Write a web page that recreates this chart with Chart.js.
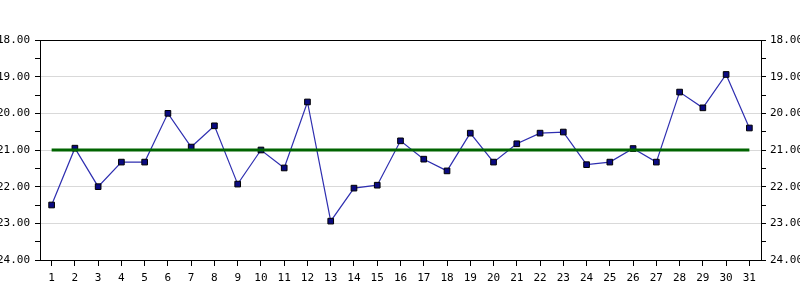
<!DOCTYPE html>
<html>
<head>
<meta charset="utf-8">
<script src="https://cdn.jsdelivr.net/npm/chart.js@4/dist/chart.umd.min.js"></script>
<style>
  body { margin: 0; background: #fff; }
</style>
</head>
<body>
<canvas id="myChart" width="800" height="300"></canvas>
<script>
const days = ['1','2','3','4','5','6','7','8','9','10','11','12','13','14','15','16','17','18','19','20','21','22','23','24','25','26','27','28','29','30','31'];
const values = [22.50, 20.95, 22.00, 21.33, 21.33, 20.00, 20.92, 20.34, 21.93, 21.00, 21.49, 19.69, 22.94, 22.04, 21.96, 20.75, 21.25, 21.57, 20.54, 21.33, 20.83, 20.54, 20.51, 21.40, 21.33, 20.96, 21.33, 19.42, 19.85, 18.94, 20.40];
const target = days.map(() => 21.00);
const yMin = 18;
const yMax = 24;

const gridColor = (ctx) => {
    const v = ctx.tick ? ctx.tick.value : null;
    if (v === yMin || v === yMax) return '#000';
    return Number.isInteger(v) ? '#d9d9d9' : 'rgba(0,0,0,0)';
};

const yAxis = (position) => ({
    position: position,
    reverse: true,
    min: yMin,
    max: yMax,
    afterFit: (scale) => { scale.width = position === 'left' ? 40 : 39; },
    ticks: {
        stepSize: 0.5,
        autoSkip: false,
        padding: position === 'left' ? 5 : 4,
        color: '#000',
        font: { family: 'DejaVu Sans Mono', size: 11 },
        callback: (v) => Number.isInteger(v) ? v.toFixed(2) : ''
    },
    grid: {
        drawOnChartArea: position === 'left',
        color: gridColor,
        tickColor: '#000',
        tickLength: 5,
        lineWidth: 1
    },
    border: { display: true, color: '#000' }
});

const config = {
    type: 'line',
    data: {
        labels: days,
        datasets: [
            {
                data: target,
                borderColor: '#006400',
                borderWidth: 3,
                pointRadius: 0,
                yAxisID: 'y'
            },
            {
                data: values,
                borderColor: '#2e2eb0',
                borderWidth: 1.2,
                pointStyle: 'rect',
                pointRadius: 4,
                pointBackgroundColor: '#0a0a80',
                pointBorderColor: '#000',
                pointBorderWidth: 1,
                yAxisID: 'y'
            }
        ]
    },
    options: {
        responsive: false,
        animation: false,
        layout: { padding: { top: 40, left: 0, right: 0, bottom: 0 } },
        plugins: { legend: { display: false }, tooltip: { enabled: false } },
        scales: {
            x: {
                offset: true,
                afterFit: (scale) => { scale.height = 40; },
                ticks: {
                    autoSkip: false,
                    maxRotation: 0,
                    padding: 6,
                    color: '#000',
                    font: { family: 'DejaVu Sans Mono', size: 11 }
                },
                grid: {
                    drawOnChartArea: false,
                    color: '#000',
                    tickLength: 6,
                    offset: false
                },
                border: { display: true, color: '#000' }
            },
            y: yAxis('left'),
            y2: yAxis('right')
        }
    }
};

const ctx = document.getElementById('myChart').getContext('2d');
new Chart(ctx, config);
</script>
</body>
</html>
